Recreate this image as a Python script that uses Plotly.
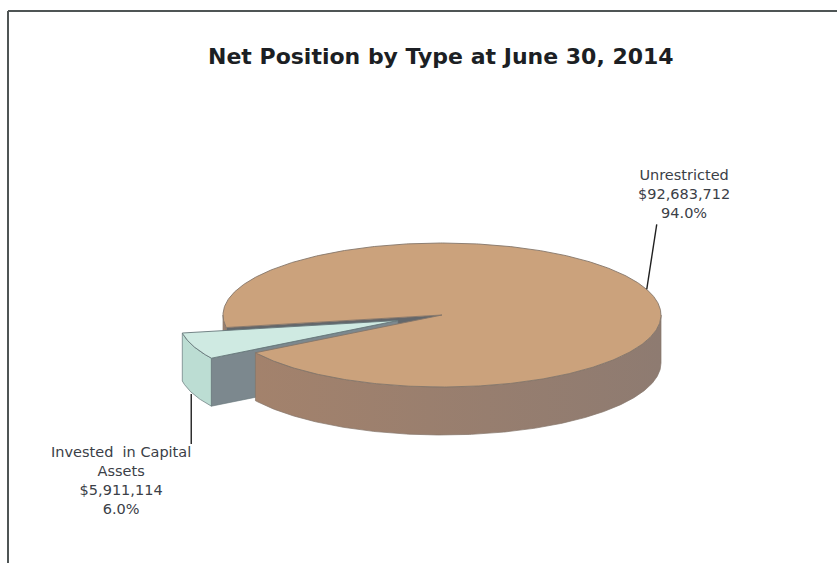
import numpy as np
import plotly.graph_objects as go

# ---- data -------------------------------------------------------------
categories = ["Unrestricted", "Invested in Capital Assets"]
amounts = [92683712, 5911114]
label_lines = ["Unrestricted", "Invested  in Capital<br>Assets"]

# ---- canvas / pie geometry (pixels) ------------------------------------
W, H = 837, 563
CX, CY = 442, 315          # centre of the top ellipse
RX, RY = 219, 72           # ellipse radii
DEPTH = 48                 # thickness of the disc
START_DEG = 190            # angle where the first slice begins (counter-clockwise)
EXPLODE = [0.0, 0.215]     # radial pull-out of each slice
PIE_ORDER = [1, 0]         # slices laid out counter-clockwise from START_DEG

TOP_COLORS = ["#CBA27C", "#CFEAE2"]
SIDE_LEFT = ["#A3826C", "#BCDDD3"]
SIDE_RIGHT = ["#8E7B71", "#BCDDD3"]
CUT_COLORS = ["#63676B", "#7C888E"]
EDGE_COLORS = ["#85766A", "#66777A"]
TEXT_COLOR = "#3B4047"

total = sum(amounts)
shares = [v / total for v in amounts]

# angular spans
spans = {}
a = START_DEG
for i in PIE_ORDER:
    spans[i] = (a, a + 360.0 * shares[i])
    a += 360.0 * shares[i]


def offset(i):
    t0, t1 = spans[i]
    m = np.radians((t0 + t1) / 2)
    return EXPLODE[i] * RX * np.cos(m), -EXPLODE[i] * RY * np.sin(m)


def ell(theta, off=(0.0, 0.0), drop=0.0):
    t = np.radians(theta)
    return CX + RX * np.cos(t) + off[0], CY - RY * np.sin(t) + off[1] + drop


def arc(t0, t1, off, drop=0.0, step=0.5):
    n = max(2, int(abs(t1 - t0) / step) + 1)
    ts = np.linspace(t0, t1, n)
    xs, ys = ell(ts, off, drop)
    return list(xs), list(ys)


fig = go.Figure()


def poly(xs, ys, fill, edge=None, width=0.0, gradient=None):
    kw = {}
    if gradient:
        kw["fillgradient"] = dict(type="horizontal",
                                  colorscale=[[0, gradient[0]], [1, gradient[1]]])
    fig.add_trace(go.Scatter(
        x=xs + [xs[0]], y=ys + [ys[0]], mode="lines", fill="toself",
        fillcolor=fill, line=dict(color=edge or fill, width=width),
        hoverinfo="skip", showlegend=False, **kw))


def front_pieces(t0, t1):
    """Parts of [t0, t1] on the near half of the disc (sin < 0)."""
    out = []
    for k in range(-1, 3):
        lo, hi = 180 + 360 * k, 360 + 360 * k
        s, e = max(t0, lo), min(t1, hi)
        if e > s:
            out.append((s, e))
    return out


def side(i, s, e):
    off = offset(i)
    tx, ty = arc(s, e, off)
    bx, by = arc(e, s, off, DEPTH)
    grad = None if SIDE_LEFT[i] == SIDE_RIGHT[i] else (SIDE_LEFT[i], SIDE_RIGHT[i])
    poly(tx + bx, ty + by, SIDE_LEFT[i], EDGE_COLORS[i], 0.7, grad)


def cut_face(i, theta):
    off = offset(i)
    cx, cy = CX + off[0], CY + off[1]
    ox, oy = ell(theta, off)
    poly([cx, ox, ox, cx], [cy, oy, oy + DEPTH, cy + DEPTH],
         CUT_COLORS[i], EDGE_COLORS[i], 0.6)


def top(i):
    t0, t1 = spans[i]
    off = offset(i)
    xs, ys = arc(t0, t1, off)
    poly([CX + off[0]] + xs, [CY + off[1]] + ys, TOP_COLORS[i], EDGE_COLORS[i], 0.9)


big, small = 0, 1
b0, b1 = spans[big]
s0, s1 = spans[small]

# back-most: the visible cut face of the large slice, and its side just behind the small one
cut_face(big, b1)
for s, e in front_pieces(b0, b1):
    if e >= b1 - 1e-9:
        side(big, s, e)

# the pulled-out slice
for s, e in front_pieces(s0, s1):
    side(small, s, e)
cut_face(small, s1)
top(small)

# the rest of the large slice in front
for s, e in front_pieces(b0, b1):
    if e < b1 - 1e-9:
        side(big, s, e)
top(big)

# ---- labels with leader lines -----------------------------------------
def money(v):
    return "${:,.0f}".format(v)


# large slice: leader from its top rim at mid-angle up to the label
bm = (b0 + b1) / 2
ax_, ay_ = ell(bm, offset(big))
lx, ly = ax_ + 10, ay_ - 65
fig.add_trace(go.Scatter(x=[ax_, lx], y=[ay_, ly], mode="lines",
                         line=dict(color="#202020", width=1.4),
                         hoverinfo="skip", showlegend=False))
fig.add_annotation(x=lx + 27, y=ly - 1, xref="x", yref="y", showarrow=False,
                   xanchor="center", yanchor="bottom", align="center",
                   text="%s<br>%s<br>%.1f%%" % (label_lines[big], money(amounts[big]), shares[big] * 100),
                   font=dict(family="DejaVu Sans", size=14.5, color=TEXT_COLOR))

# small slice: leader from its lower rim at mid-angle down to the label
sm = (s0 + s1) / 2
ax_, ay_ = ell(sm, offset(small), DEPTH)
lx, ly = ax_ - 2, ay_ + 50
fig.add_trace(go.Scatter(x=[lx, lx], y=[ay_, ly], mode="lines",
                         line=dict(color="#202020", width=1.4),
                         hoverinfo="skip", showlegend=False))
fig.add_annotation(x=lx - 70, y=ly - 2, xref="x", yref="y", showarrow=False,
                   xanchor="center", yanchor="top", align="center",
                   text="%s<br>%s<br>%.1f%%" % (label_lines[small], money(amounts[small]), shares[small] * 100),
                   font=dict(family="DejaVu Sans", size=14.5, color=TEXT_COLOR))

# ---- title and frame --------------------------------------------------
fig.add_annotation(x=441, y=56, xref="x", yref="y", showarrow=False,
                   xanchor="center", yanchor="middle",
                   text="<b>Net Position by Type at June 30, 2014</b>",
                   font=dict(family="DejaVu Sans", size=22, color="#1C1F24"))

fig.add_shape(type="line", x0=8, y0=11, x1=W, y1=11, xref="x", yref="y",
              line=dict(color="#4F5555", width=2))
fig.add_shape(type="line", x0=8, y0=11, x1=8, y1=H, xref="x", yref="y",
              line=dict(color="#4F5555", width=2))

fig.update_layout(
    width=W, height=H, margin=dict(l=0, r=0, t=0, b=0),
    paper_bgcolor="white", plot_bgcolor="white", showlegend=False,
    xaxis=dict(range=[0, W], visible=False, fixedrange=True),
    yaxis=dict(range=[H, 0], visible=False, fixedrange=True),
)

fig.write_html("out.html")
